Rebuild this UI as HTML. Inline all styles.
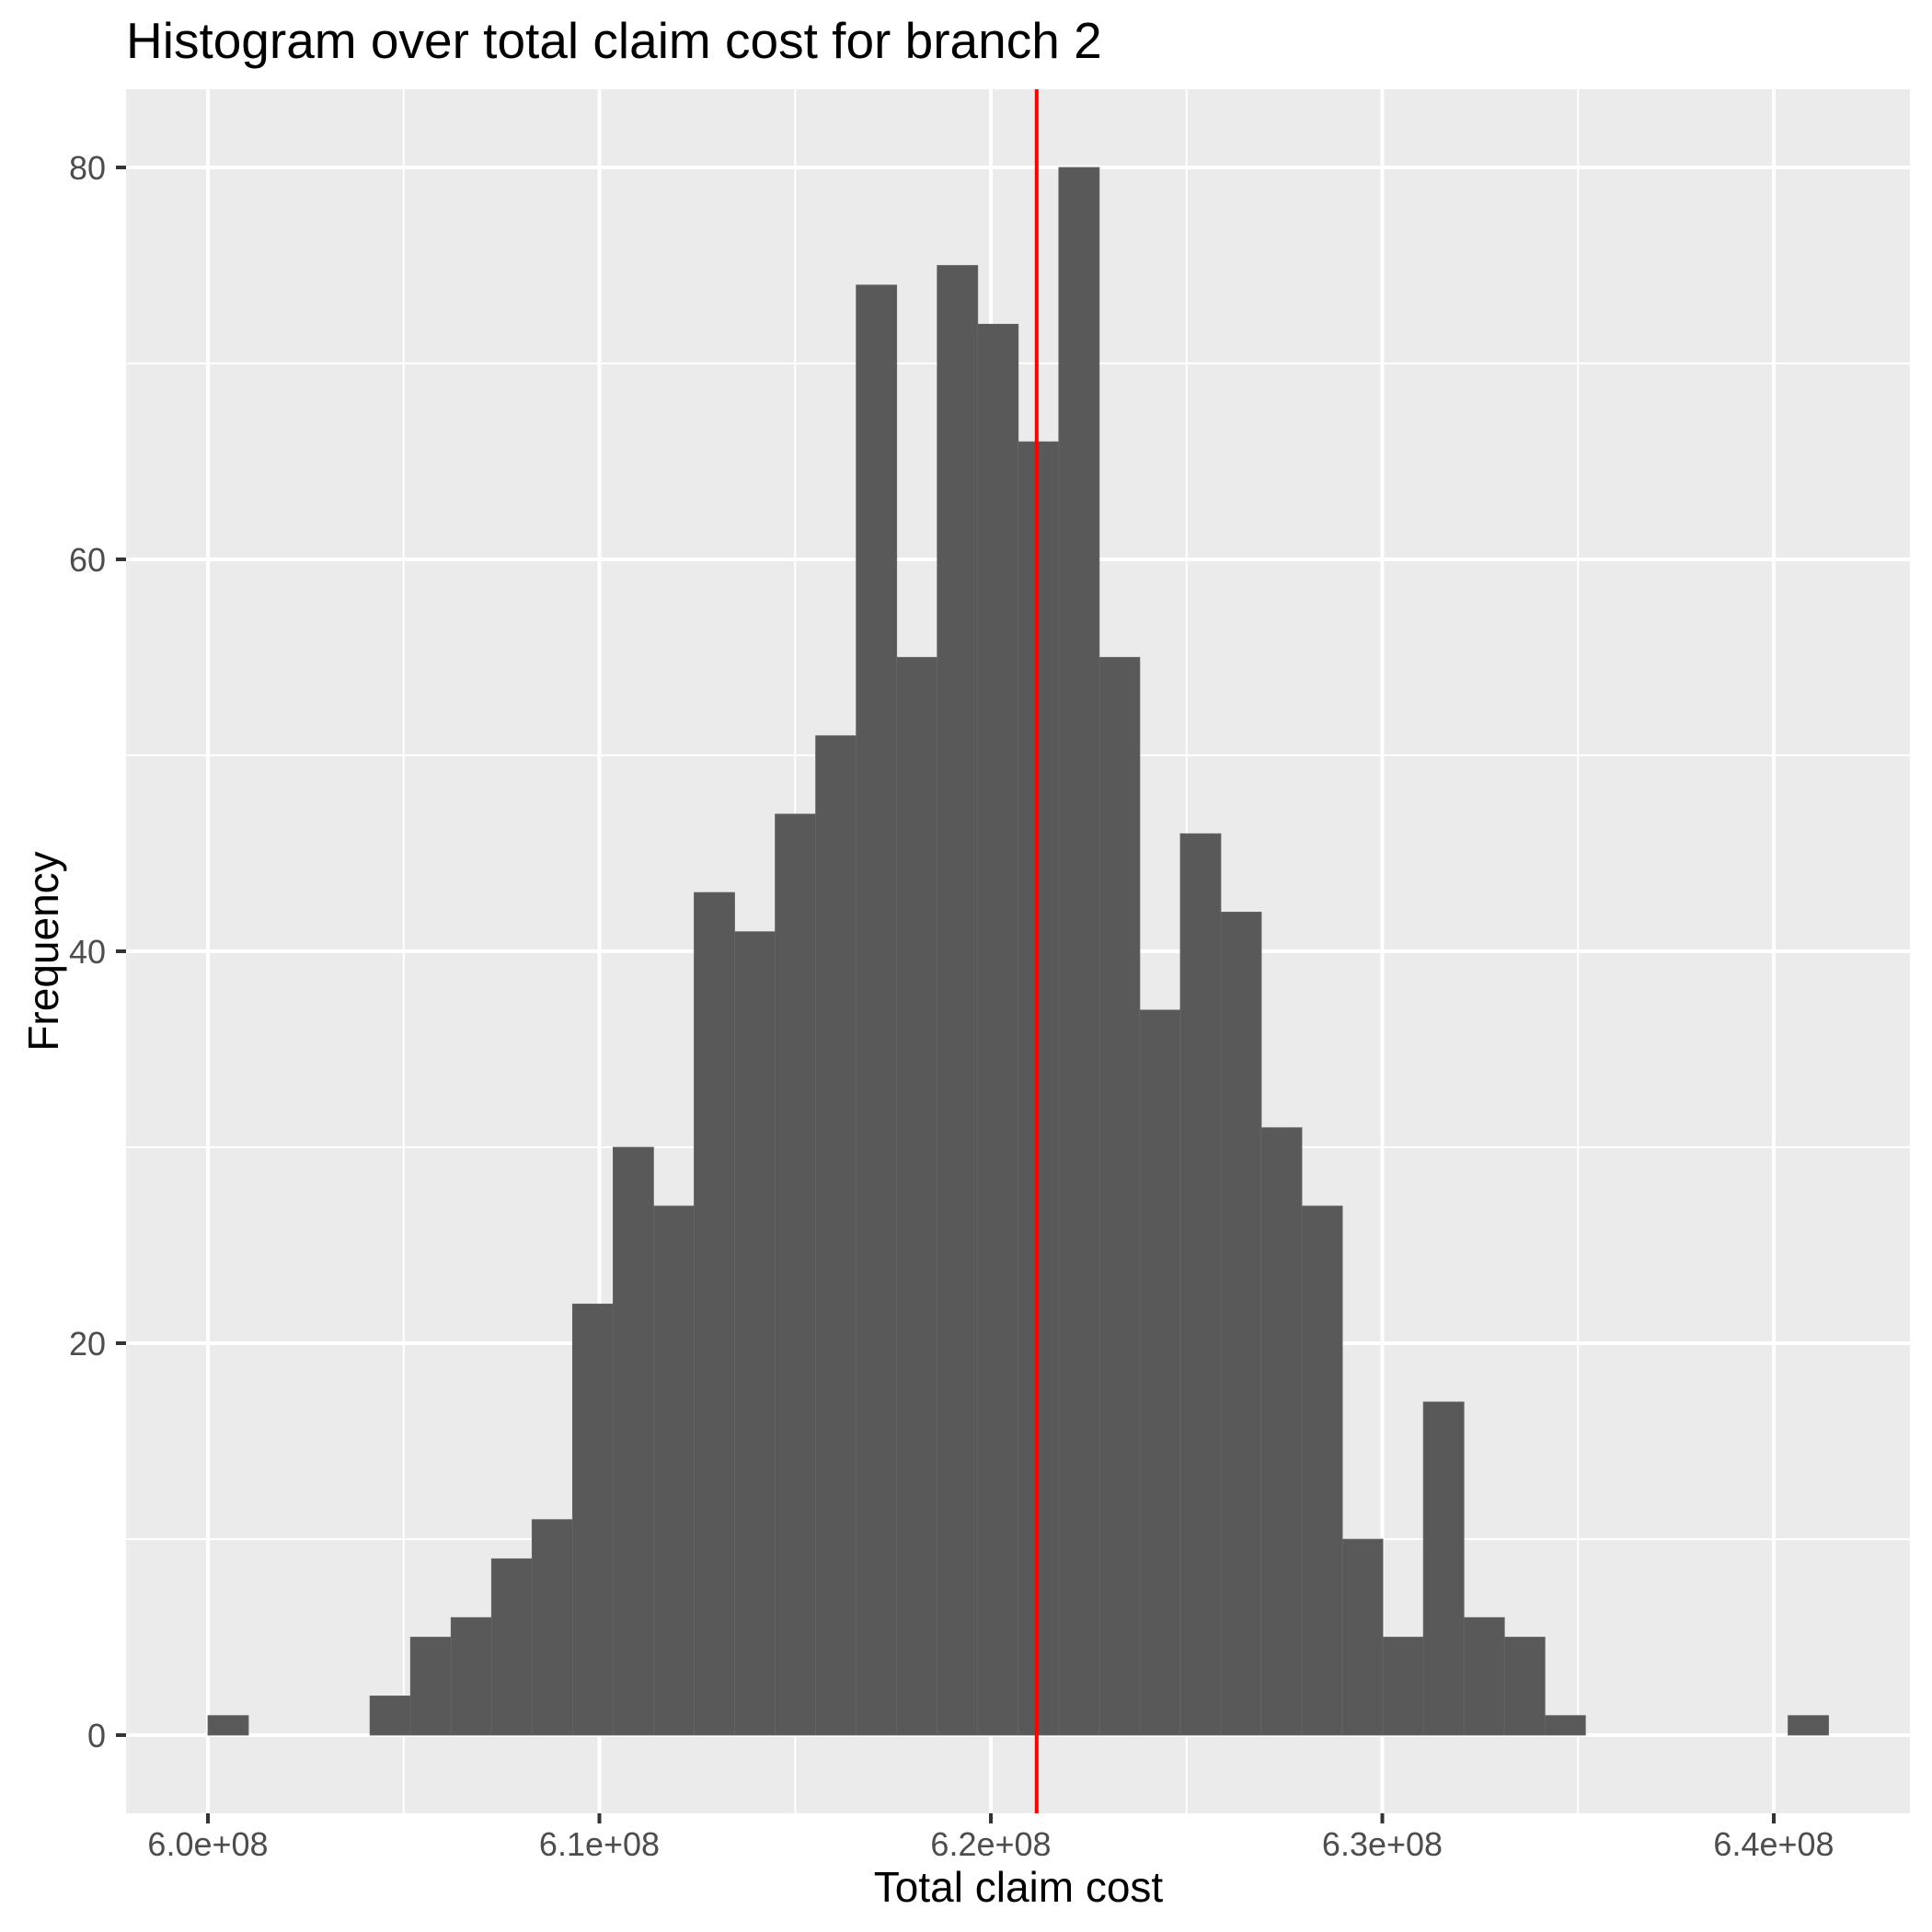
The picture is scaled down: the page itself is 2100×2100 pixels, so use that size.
<!DOCTYPE html>
<html><head><meta charset="utf-8"><style>
html,body{margin:0;padding:0;background:#fff}
svg{display:block;font-family:"Liberation Sans",Arial,sans-serif}
</style></head><body>
<svg id="chart" width="2100" height="2100" viewBox="0 0 2100 2100" xmlns="http://www.w3.org/2000/svg">
<rect x="0" y="0" width="2100" height="2100" fill="#fff"/>
<text x="137" y="63" font-size="55" fill="#000">Histogram over total claim cost for branch 2</text>
<rect x="137" y="97" width="1939" height="1874" fill="#ebebeb"/>
<g id="grid"></g>
<g id="bars"></g>
<g id="overlay"></g>
<g id="axes"></g>
<text x="1107" y="2067" font-size="46" text-anchor="middle" fill="#000">Total claim cost</text>
<text transform="translate(63,1034) rotate(-90)" font-size="46" text-anchor="middle" fill="#000">Frequency</text>
</svg>
<script>
const binStart = 600000000;
const binWidth = 1035000;
const counts = [1,0,0,0,2,5,6,9,11,22,30,27,43,41,47,51,74,55,75,72,66,80,55,37,46,42,31,27,10,5,17,6,5,1,0,0,0,0,0,1];
const meanValue = 621170000;
const xTicks = [600000000,610000000,620000000,630000000,640000000];
const xTickLabels = ["6.0e+08","6.1e+08","6.2e+08","6.3e+08","6.4e+08"];
const yTicks = [0,20,40,60,80];
const yTickLabels = ["0","20","40","60","80"];

const NS = "http://www.w3.org/2000/svg";
const PL = 137, PR = 2076, PT = 97, PB = 1971;
function xs(v){ return 226 + (v - 600000000) / 10000000 * 425.5; }
function ys(v){ return 1886 - v * 21.3; }
function mk(tag, attrs, parent){
  const e = document.createElementNS(NS, tag);
  for (const k in attrs) e.setAttribute(k, attrs[k]);
  parent.appendChild(e);
  return e;
}
const grid = document.getElementById('grid');
// minor grid
for (let i = 0; i < xTicks.length; i++) {
  const mv = xTicks[i] + 5000000;
  const x = xs(mv);
  if (x > PL && x < PR) {
    const l = mk('line', {x1:x, x2:x, y1:PT, y2:PB, stroke:'#fff', 'stroke-width':2}, grid);
    
    
  }
}
for (let i = 0; i < yTicks.length; i++) {
  const y = ys(yTicks[i] + 10);
  if (y > PT && y < PB) {
    const l = mk('line', {x1:PL, x2:PR, y1:y, y2:y, stroke:'#fff', 'stroke-width':2}, grid);
    
    
  }
}
for (let i = 0; i < xTicks.length; i++) {
  const x = xs(xTicks[i]);
  const l = mk('line', {x1:x, x2:x, y1:PT, y2:PB, stroke:'#fff', 'stroke-width':4}, grid);
  
  
}
for (let i = 0; i < yTicks.length; i++) {
  const y = ys(yTicks[i]);
  const l = mk('line', {x1:PL, x2:PR, y1:y, y2:y, stroke:'#fff', 'stroke-width':4}, grid);
  
  
}
const bars = document.getElementById('bars');
for (let i = 0; i < counts.length; i++) {
  if (counts[i] <= 0) continue;
  const x0 = xs(binStart + i * binWidth), x1 = xs(binStart + (i + 1) * binWidth);
  const r = mk('rect', {x:x0, y:ys(counts[i]), width:x1 - x0, height:ys(0) - ys(counts[i]), fill:'#595959', stroke:'#666', 'stroke-width':0.8}, bars);
  
  
}
const ov = document.getElementById('overlay');
const mx = xs(meanValue);
const ml = mk('line', {x1:mx, x2:mx, y1:PT, y2:PB, stroke:'#ff0000', 'stroke-width':4}, ov);


const axes = document.getElementById('axes');
for (let i = 0; i < xTicks.length; i++) {
  const x = xs(xTicks[i]);
  const t = mk('line', {x1:x, x2:x, y1:PB, y2:PB + 11, stroke:'#333', 'stroke-width':4}, axes);
  
  
  const lb = mk('text', {x:x, y:2017, 'font-size':36, 'text-anchor':'middle', fill:'#4d4d4d'}, axes);
  lb.textContent = xTickLabels[i];
  
  
}
for (let i = 0; i < yTicks.length; i++) {
  const y = ys(yTicks[i]);
  const t = mk('line', {x1:PL - 11, x2:PL, y1:y, y2:y, stroke:'#333', 'stroke-width':4}, axes);
  
  
  const lb = mk('text', {x:PL - 22, y:y + 13, 'font-size':36, 'text-anchor':'end', fill:'#4d4d4d'}, axes);
  lb.textContent = yTickLabels[i];
  
  
}
</script>
</body></html>
